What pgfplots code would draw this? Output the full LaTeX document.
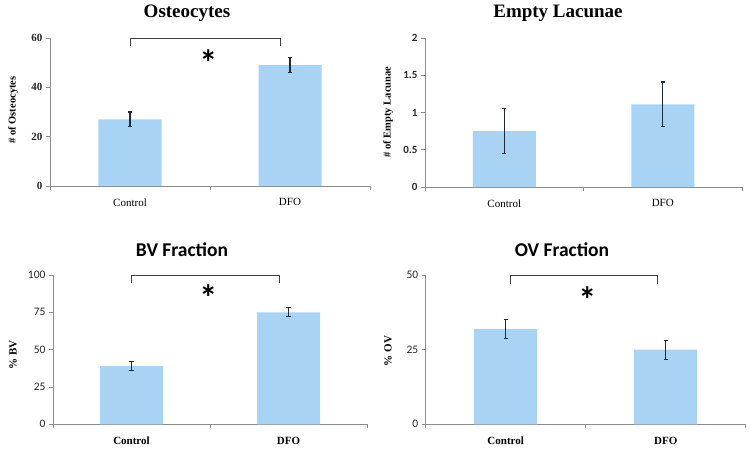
\documentclass[border=0pt]{standalone}
\usepackage{fontspec}
\setmainfont{Liberation Serif}
\newfontfamily\carlito{Carlito}
\usepackage{pgfplots}
\pgfplotsset{compat=1.18}
\usepackage{xcolor}
\definecolor{barblue}{HTML}{A8D3F5}
\definecolor{axgray}{HTML}{8C8C8C}
\definecolor{errcol}{HTML}{1E2A36}
\definecolor{brk}{HTML}{404040}

\tikzset{starnode/.style={font=\carlito\bfseries\fontsize{36}{36}\selectfont, inner sep=0pt, anchor=north}}

\pgfplotsset{
    panel/.style={
        scale only axis,
        axis lines*=left,
        axis line style={draw=axgray, line width=0.8pt},
        tick style={draw=axgray, line width=0.8pt},
        tick align=outside,
        major tick length=4pt,
        xmin=-0.5, xmax=1.5, ymin=0,
        xtick={-0.5,0.5,1.5},
        xticklabels={},
        extra x ticks={0,1},
        extra x tick labels={Control,DFO},
        extra x tick style={major tick length=0pt, tick style={draw=none}},
        xticklabel style={yshift=-9pt, text=black},
        yticklabel style={text=black!85},
        /pgf/number format/assume math mode=true,
        ybar, bar width=63pt,
        error bars/y dir=both,
        error bars/y explicit,
        error bars/error bar style={draw=errcol, line width=1.1pt},
        error bars/error mark options={rotate=90, mark size=2.2pt, line width=1.1pt, draw=errcol},
        clip=false,
    },
    bars/.style={fill=barblue, draw=none},
}

\begin{document}
\begin{tikzpicture}
\useasboundingbox (0,0) rectangle (750pt,451pt);

% Osteocytes
\begin{axis}[panel, at={(50pt,265pt)}, anchor=south west, width=320pt, height=148pt,
    ymax=60, ytick={0,20,40,60},
    yticklabel style={font=\bfseries\fontsize{11}{11}\selectfont},
    xticklabel style={font=\fontsize{11}{11}\selectfont}]
\addplot[bars] coordinates {(0,27) +- (0,3) (1,49) +- (0,3)};
\draw[brk, line width=1pt] (axis cs:0,56.8) -- (axis cs:0,60) -- (axis cs:0.94,60) -- (axis cs:0.94,56.8);
\node[starnode] at (axis cs:0.49,55.5) {*};
\end{axis}

% Empty Lacunae
\begin{axis}[panel, at={(425pt,264pt)}, anchor=south west, width=317pt, height=149pt,
    ymax=2, ytick={0,0.5,1,1.5,2},
    yticklabel style={font=\carlito\bfseries\fontsize{11}{11}\selectfont},
    xticklabel style={font=\fontsize{11}{11}\selectfont}]
\addplot[bars] coordinates {(0,0.75) +- (0,0.3) (1,1.11) +- (0,0.3)};
\end{axis}

% BV Fraction
\begin{axis}[panel, at={(53pt,26.7pt)}, anchor=south west, width=314pt, height=149.3pt,
    ymax=100, ytick={0,25,50,75,100},
    yticklabel style={font=\carlito\fontsize{11.5}{11.5}\selectfont},
    xticklabel style={font=\bfseries\fontsize{11}{11}\selectfont}]
\addplot[bars] coordinates {(0,39) +- (0,3.2) (1,75) +- (0,3)};
\draw[brk, line width=1pt] (axis cs:0,94.6) -- (axis cs:0,100) -- (axis cs:0.94,100) -- (axis cs:0.94,94.6);
\node[starnode] at (axis cs:0.49,93.3) {*};
\end{axis}

% OV Fraction
\begin{axis}[panel, at={(425.7pt,26.7pt)}, anchor=south west, width=320pt, height=149.3pt,
    ymax=50, ytick={0,25,50},
    yticklabel style={font=\carlito\fontsize{11.5}{11.5}\selectfont},
    xticklabel style={font=\bfseries\fontsize{11}{11}\selectfont}]
\addplot[bars] coordinates {(0,32) +- (0,3.2) (1,25) +- (0,3.2)};
\draw[brk, line width=1pt] (axis cs:0.03,47) -- (axis cs:0.03,50) -- (axis cs:0.95,50) -- (axis cs:0.95,47);
\node[starnode] at (axis cs:0.51,46.1) {*};
\end{axis}

% titles
\node[font=\bfseries\fontsize{19}{19}\selectfont] at (187pt,438pt) {Osteocytes};
\node[font=\bfseries\fontsize{19}{19}\selectfont] at (558pt,438pt) {Empty Lacunae};
\node[font=\carlito\bfseries\fontsize{19.5}{19.5}\selectfont] at (182pt,201pt) {BV Fraction};
\node[font=\carlito\bfseries\fontsize{19.5}{19.5}\selectfont] at (562pt,201pt) {OV Fraction};

% y labels
\node[rotate=90, font=\bfseries\fontsize{10.5}{10.5}\selectfont] at (13pt,341pt) {\# of Osteocytes};
\node[rotate=90, font=\bfseries\fontsize{10.5}{10.5}\selectfont] at (388pt,339pt) {\# of Empty Lacunae};
\node[rotate=90, font=\bfseries\fontsize{11}{11}\selectfont] at (13pt,96pt) {\% BV};
\node[rotate=90, font=\bfseries\fontsize{11}{11}\selectfont] at (388pt,100pt) {\% OV};
\end{tikzpicture}
\end{document}
